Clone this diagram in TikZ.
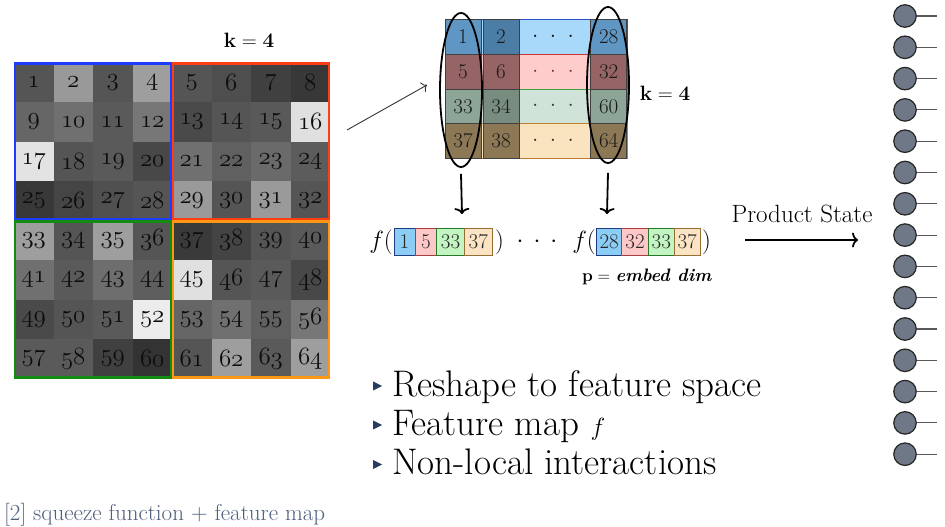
\documentclass[tikz,border=0pt]{standalone}
\usetikzlibrary{arrows.meta,shapes.geometric}
\definecolor{qblue}{RGB}{30,60,255}
\definecolor{qred}{RGB}{255,60,20}
\definecolor{qgreen}{RGB}{20,140,20}
\definecolor{qorange}{RGB}{255,150,20}
% row strips of the reshaped block
\definecolor{sblue}{RGB}{168,216,250}
\definecolor{spink}{RGB}{255,204,204}
\definecolor{sgreen}{RGB}{208,227,216}
\definecolor{sbeige}{RGB}{250,228,192}
\definecolor{bblue}{RGB}{42,80,200}
\definecolor{bred}{RGB}{204,51,51}
\definecolor{bgreen}{RGB}{64,160,64}
\definecolor{bbrown}{RGB}{192,128,48}
% darkened cells
\definecolor{dblue}{RGB}{95,150,196}
\definecolor{dblueB}{RGB}{75,125,165}
\definecolor{dred}{RGB}{150,100,100}
\definecolor{dgreen}{RGB}{140,165,150}
\definecolor{dgreenB}{RGB}{120,140,128}
\definecolor{dbrown}{RGB}{140,120,85}
% feature vector cells
\definecolor{fblue}{RGB}{140,205,245}
\definecolor{fpink}{RGB}{255,200,200}
\definecolor{fgreen}{RGB}{195,245,195}
\definecolor{fbeige}{RGB}{250,228,195}
\definecolor{fbblue}{RGB}{30,60,130}
\definecolor{fbred}{RGB}{170,60,60}
\definecolor{fbgreen}{RGB}{40,120,40}
\definecolor{fbbrown}{RGB}{150,110,50}
\definecolor{site}{RGB}{110,120,135}
\definecolor{bulletc}{RGB}{40,60,95}
\definecolor{footc}{RGB}{80,95,125}
\begin{document}
\begin{tikzpicture}[x=1pt,y=-1pt,
  gcell/.style={minimum width=39.5pt,minimum height=39.5pt,inner sep=0pt,
    font=\fontsize{31}{31}\usefont{OML}{lmm}{m}{it},text=black!95},
  quad/.style={line width=2.4pt},
  strip/.style={minimum width=182pt,minimum height=34.7pt,inner sep=0pt,line width=0.8pt},
  mcell/.style={minimum width=36pt,minimum height=34.7pt,inner sep=0pt,
    draw=black!75,line width=0.8pt,font=\fontsize{21}{21}\selectfont,text=black!90},
  mdots/.style={font=\fontsize{20}{20}\selectfont},
  fcell/.style={minimum height=27.5pt,inner sep=0pt,line width=0.9pt,
    font=\fontsize{21}{21}\selectfont,text=black!85},
  fparen/.style={inner sep=0pt,font=\fontsize{35}{35}\selectfont},
  oval/.style={ellipse,draw,line width=1.8pt,inner sep=0pt,minimum width=42pt},
  darrow/.style={line width=1.8pt,-{To[length=6pt,width=15pt]}},
  label/.style={inner sep=0pt,font=\fontsize{20}{20}\selectfont},
  site/.style={circle,draw=black!85,fill=site,line width=1.2pt,minimum size=22.5pt,inner sep=0pt},
  leg/.style={draw=black!65,line width=1.1pt},
  bul/.style={inner sep=0pt,anchor=base west,font=\fontsize{37}{37}\selectfont}
]
\useasboundingbox (0,0) rectangle (945,527);

% ---------- 8x8 image grid ----------
\foreach \g [count=\n from 1] in {
   85,153, 85,158, 85, 78, 64, 56,
  102,112, 90,119, 74, 85, 89,224,
  227, 85, 90, 72,112, 96,106, 92,
   56, 69, 80, 85,154, 85,154, 85,
  158, 85,158, 85, 58, 68, 85, 90,
  112, 90,110, 94,224, 85, 90, 72,
   74, 85, 90,236,102,112, 96,119,
   90, 90, 64, 51, 85,158, 90,158}{
  \pgfmathtruncatemacro\rr{div(\n-1,8)}
  \pgfmathtruncatemacro\cc{mod(\n-1,8)}
  \definecolor{gc}{RGB}{\g,\g,\g}
  \node[gcell,fill=gc] (c\n) at ({33.75+39.5*\cc},{82.25+39.5*\rr}) {\n};
}
\draw[quad,qblue]   ([shift={(1.2,1.2)}]c1.north west)  rectangle ([shift={(-1.2,-1.2)}]c28.south east);
\draw[quad,qred]    ([shift={(1.2,1.2)}]c5.north west)  rectangle ([shift={(-1.2,-1.2)}]c32.south east);
\draw[quad,qgreen]  ([shift={(1.2,1.2)}]c33.north west) rectangle ([shift={(-1.2,-1.2)}]c60.south east);
\draw[quad,qorange] ([shift={(1.2,1.2)}]c37.north west) rectangle ([shift={(-1.2,-1.2)}]c64.south east);
\node[label] (ktop) at (249,40) {$\mathbf{k}=\mathbf{4}$};

% ---------- reshaped block ----------
\node[strip,fill=sblue,draw=bblue]   (s1) at (536,36.9)  {};
\node[strip,fill=spink,draw=bred]    (s2) at (536,71.6)  {};
\node[strip,fill=sgreen,draw=bgreen] (s3) at (536,106.3) {};
\node[strip,fill=sbeige,draw=bbrown] (s4) at (536,141.0) {};

\node[mcell,fill=dblue]   (m11) at (463,36.9)  {1};
\node[mcell,fill=dblueB]  (m12) at (501,36.9)  {2};
\node[mcell,fill=dblue]   (m13) at (608.7,36.9){28};
\node[mcell,fill=dred]    (m21) at (463,71.6)  {5};
\node[mcell,fill=dred]    (m22) at (501,71.6)  {6};
\node[mcell,fill=dred]    (m23) at (608.7,71.6){32};
\node[mcell,fill=dgreen]  (m31) at (463,106.3) {33};
\node[mcell,fill=dgreenB] (m32) at (501,106.3) {34};
\node[mcell,fill=dgreen]  (m33) at (608.7,106.3){60};
\node[mcell,fill=dbrown]  (m41) at (463,141.0) {37};
\node[mcell,fill=dbrown]  (m42) at (501,141.0) {38};
\node[mcell,fill=dbrown]  (m43) at (608.7,141.0){64};
\foreach \r/\y/\dc in {1/36.9/black,2/71.6/fbred!80!black,3/106.3/black!80,4/141.0/black!85}
  \node[mdots,text=\dc] (md\r) at (553,\y) {${\cdot}\hspace{12pt}{\cdot}\hspace{12pt}{\cdot}$};

\node[oval,minimum height=154pt] (e1) at (461,90) {};
\node[oval,minimum height=156pt] (e2) at (608,85) {};
\node[label] (kright) at (665,93) {$\mathbf{k}=\mathbf{4}$};

% reshape arrow
\coordinate (r0) at (347,130);
\coordinate (r1) at (427,85);
\draw[black!80,line width=0.9pt,-{To[length=5pt,width=11pt]}] (r0) -- (r1);

% ---------- feature map row ----------
\coordinate (a1) at (462,214);
\coordinate (a2) at (607,214);
\draw[darrow] ([yshift=-6pt]e1.south) -- (a1);
\draw[darrow] ([yshift=-9pt]e2.south) -- (a2);

\node[fparen,anchor=east] (f1) at (393,242) {$f($};
\node[fcell,fill=fblue,draw=fbblue,minimum width=21pt]    (v11) at (404.5,242) {1};
\node[fcell,fill=fpink,draw=fbred,minimum width=21.7pt]   (v12) at (425.85,242) {5};
\node[fcell,fill=fgreen,draw=fbgreen,minimum width=27.6pt](v13) at (450.5,242) {33};
\node[fcell,fill=fbeige,draw=fbbrown,minimum width=28pt]  (v14) at (478.3,242) {37};
\node[fparen,anchor=west] (g1) at (495,242) {$)$};
\node[fparen] (fd) at (537,242) {${\cdot}\hspace{10pt}{\cdot}\hspace{10pt}{\cdot}$};
\node[fparen,anchor=east] (f2) at (596,242) {$f($};
\node[fcell,fill=fblue,draw=fbblue,minimum width=25pt]    (v21) at (609.2,242) {28};
\node[fcell,fill=fpink,draw=fbred,minimum width=26.6pt]   (v22) at (635,242) {32};
\node[fcell,fill=fgreen,draw=fbgreen,minimum width=26pt]  (v23) at (661.3,242) {33};
\node[fcell,fill=fbeige,draw=fbbrown,minimum width=25.7pt](v24) at (687.15,242) {37};
\node[fparen,anchor=west] (g2) at (702,242) {$)$};
\node[inner sep=0pt,font=\fontsize{18}{18}\selectfont] (pdim) at (647,277)
  {$\mathbf{p}=$ \textbf{\textit{embed dim}}};

% ---------- product state ----------
\node[inner sep=0pt,font=\fontsize{25}{25}\selectfont] (ps) at (802,214) {Product State};
\coordinate (p0) at (745,240);
\coordinate (p1) at (858,240);
\draw[line width=1.8pt,-{To[length=6pt,width=15pt]}] (p0) -- (p1);

\foreach \i in {0,...,14}{
  \node[site] (q\i) at (905,{16+31.3*\i}) {};
  \coordinate (t\i) at (937,{16+31.3*\i});
  \draw[leg] (q\i.east) -- (t\i);
}

% ---------- bullet list ----------
\node[bul] (b1) at (392,396) {Reshape to feature space};
\node[bul] (b2) at (392,435) {Feature map $f$};
\node[bul] (b3) at (392,474) {Non-local interactions};
\foreach \y in {386,425,464.5}
  \fill[bulletc] (373,\y-4.6) -- (382,\y) -- (373,\y+4.6) -- cycle;

\node[inner sep=0pt,anchor=base west,text=footc,font=\fontsize{23}{23}\selectfont] (foot) at (4,520)
  {[2] squeeze function + feature map};
\end{tikzpicture}
\end{document}
